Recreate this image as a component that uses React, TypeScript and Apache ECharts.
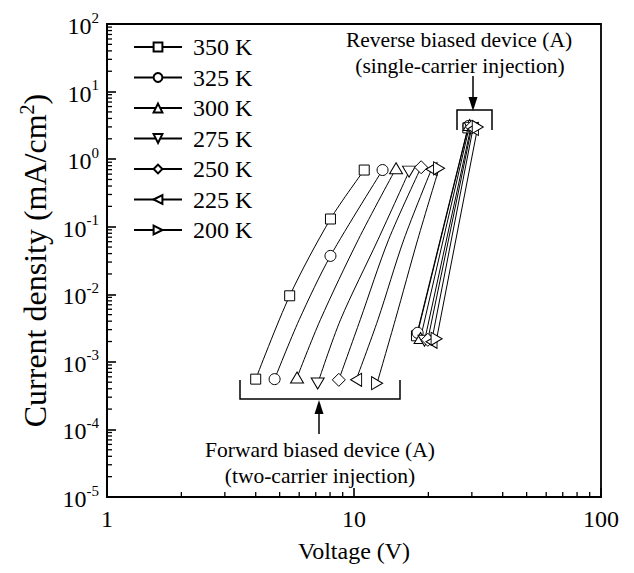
import React, { useEffect, useRef } from 'react';
import * as echarts from 'echarts';

// ---------- data ----------
const temperatures = ['350 K', '325 K', '300 K', '275 K', '250 K', '225 K', '200 K'];

// forward biased (two-carrier injection): voltage (V), current density (mA/cm2), marker shown?
const fwd350V = [4.0, 5.49, 8.03, 11.0];
const fwd350J = [5.55e-4, 9.5e-3, 0.13, 0.69];
const fwd350Mark = [true, true, true, true];

const fwd325V = [4.77, 6.0, 8.03, 13.05];
const fwd325J = [5.55e-4, 4.2e-3, 0.037, 0.69];
const fwd325Mark = [true, false, true, true];

const fwd300V = [5.88, 7.31, 10.4, 14.8];
const fwd300J = [5.86e-4, 4.2e-3, 0.064, 0.733];
const fwd300Mark = [true, false, false, true];

const fwd275V = [7.13, 8.82, 12.5, 16.7];
const fwd275J = [4.78e-4, 4.2e-3, 0.064, 0.653];
const fwd275Mark = [true, false, false, true];

const fwd250V = [8.68, 10.6, 13.8, 18.7];
const fwd250J = [5.42e-4, 4.2e-3, 0.064, 0.759];
const fwd250Mark = [true, false, false, true];

const fwd225V = [10.2, 12.5, 15.9, 20.6];
const fwd225J = [5.42e-4, 4.2e-3, 0.064, 0.71];
const fwd225Mark = [true, false, false, true];

const fwd200V = [12.4, 14.7, 18.1, 22.1];
const fwd200J = [4.84e-4, 4.2e-3, 0.064, 0.733];
const fwd200Mark = [true, false, false, true];

// reverse biased (single-carrier injection)
const rev350V = [17.9, 28.9];
const rev350J = [2.43e-3, 2.9];
const rev325V = [18.1, 29.1];
const rev325J = [2.69e-3, 3.1];
const rev300V = [18.6, 29.4];
const rev300J = [2.26e-3, 3.2];
const rev275V = [19.3, 29.7];
const rev275J = [2.05e-3, 2.9];
const rev250V = [19.9, 30.0];
const rev250J = [2.12e-3, 3.0];
const rev225V = [20.6, 30.3];
const rev225J = [1.98e-3, 2.8];
const rev200V = [21.6, 31.7];
const rev200J = [2.19e-3, 3.0];

// minor tick values (log axes)
const xMinorTicks = [2, 3, 4, 5, 6, 7, 8, 9, 20, 30, 40, 50, 60, 70, 80, 90];
const yDecades = [1e-5, 1e-4, 1e-3, 1e-2, 1e-1, 1, 10];
const yMinorMultipliers = [2, 3, 4, 5, 6, 7, 8, 9];

const fwdV = [fwd350V, fwd325V, fwd300V, fwd275V, fwd250V, fwd225V, fwd200V];
const fwdJ = [fwd350J, fwd325J, fwd300J, fwd275J, fwd250J, fwd225J, fwd200J];
const fwdMark = [fwd350Mark, fwd325Mark, fwd300Mark, fwd275Mark, fwd250Mark, fwd225Mark, fwd200Mark];
const revV = [rev350V, rev325V, rev300V, rev275V, rev250V, rev225V, rev200V];
const revJ = [rev350J, rev325J, rev300J, rev275J, rev250J, rev225J, rev200J];

// ---------- styles ----------
const FONT = 'Liberation Serif';
const symbolShapes = ['rect', 'circle', 'triangle', 'triangle', 'diamond', 'triangle', 'triangle'];
const symbolRotations = [0, 0, 0, 180, 0, 90, -90];
const symbolSizes: any[] = [10, 11, [13, 11], [13, 11], 13, [13, 11], [13, 11]];

const X_MIN = 1, X_MAX = 100, Y_MIN = 1e-5, Y_MAX = 100;

export default function App() {
  const ref = useRef<HTMLDivElement>(null);

  useEffect(() => {
    if (!ref.current) return;
    const chart = echarts.init(ref.current, null, { renderer: 'svg' });

    const common = (i: number) => ({
      type: 'line',
      name: temperatures[i],
      symbol: symbolShapes[i],
      symbolRotate: symbolRotations[i],
      symbolSize: symbolSizes[i],
      showAllSymbol: true,
      lineStyle: { color: '#000', width: 1 },
      itemStyle: { color: '#fff', borderColor: '#000', borderWidth: 1 },
      emphasis: { disabled: true },
      z: 3,
    });

    const series: any[] = [];
    temperatures.forEach((_, i) => {
      series.push({
        ...common(i),
        smooth: 0.3,
        data: fwdV[i].map((v, k) => (fwdMark[i][k] ? { value: [v, fwdJ[i][k]] } : { value: [v, fwdJ[i][k]], symbol: 'none' })),
      });
    });
    temperatures.forEach((_, i) => {
      series.push({
        ...common(i),
        data: revV[i].map((v, k) => [v, revJ[i][k]]),
      });
    });

    const yMinorTicks: number[] = [];
    yDecades.forEach((d) => yMinorMultipliers.forEach((m) => yMinorTicks.push(d * m)));

    series.push({
      type: 'custom',
      name: 'xminor',
      coordinateSystem: 'cartesian2d',
      silent: true,
      clip: false,
      z: 10,
      encode: { x: 0, y: 1 },
      data: xMinorTicks.map((v) => [v, Y_MIN]),
      renderItem: (params: any, api: any) => {
        const p = api.coord([api.value(0), api.value(1)]);
        return { type: 'line', shape: { x1: p[0], y1: p[1], x2: p[0], y2: p[1] - 5 }, style: { stroke: '#000', lineWidth: 1.3 } };
      },
    });
    series.push({
      type: 'custom',
      name: 'yminor',
      coordinateSystem: 'cartesian2d',
      silent: true,
      clip: false,
      z: 10,
      encode: { x: 0, y: 1 },
      data: yMinorTicks.map((v) => [X_MIN, v]),
      renderItem: (params: any, api: any) => {
        const p = api.coord([api.value(0), api.value(1)]);
        return { type: 'line', shape: { x1: p[0], y1: p[1], x2: p[0] + 5, y2: p[1] }, style: { stroke: '#000', lineWidth: 1.3 } };
      },
    });

    const textEl = (txt: string, x: number, y: number) => ({
      type: 'text',
      x,
      y,
      style: { text: txt, fontSize: 21.5, fontFamily: FONT, fill: '#000', align: 'center', verticalAlign: 'middle' },
    });

    chart.setOption({
      animation: false,
      backgroundColor: '#fff',
      textStyle: { fontFamily: FONT, color: '#000' },
      grid: { left: 107, right: 33, top: 24, bottom: 76, show: true, borderColor: '#000', borderWidth: 1.8, backgroundColor: 'transparent' },
      legend: {
        data: temperatures,
        orient: 'vertical',
        left: 128,
        top: 30,
        itemWidth: 48,
        itemHeight: 11,
        itemGap: 6.5,
        selectedMode: false,
        textStyle: { fontSize: 24, fontFamily: FONT, color: '#000', padding: [0, 0, 0, 6] },
      },
      xAxis: {
        type: 'log',
        logBase: 10,
        min: X_MIN,
        max: X_MAX,
        name: 'Voltage (V)',
        nameLocation: 'middle',
        nameGap: 42,
        nameTextStyle: { fontSize: 24, fontFamily: FONT, color: '#000' },
        axisLine: { show: true, lineStyle: { color: '#000', width: 2 } },
        axisTick: { show: true, inside: true, length: 9, lineStyle: { color: '#000', width: 1.6 } },
        axisLabel: { fontSize: 24, fontFamily: FONT, color: '#000', margin: 10, formatter: (v: number) => String(Math.round(v)) },
        splitLine: { show: false },
      },
      yAxis: {
        type: 'log',
        logBase: 10,
        min: Y_MIN,
        max: Y_MAX,
        splitNumber: 7,
        name: '{a|Current density (mA/cm}{s|2}{a|)}',
        nameLocation: 'middle',
        nameGap: 56,
        nameRotate: 90,
        nameTextStyle: {
          fontFamily: FONT,
          rich: {
            a: { fontSize: 32, fontFamily: FONT, color: '#000', verticalAlign: 'bottom', lineHeight: 34 },
            s: { fontSize: 20, fontFamily: FONT, color: '#000', verticalAlign: 'top', lineHeight: 18 },
          },
        },
        axisLine: { show: true, lineStyle: { color: '#000', width: 2 } },
        axisTick: { show: true, inside: true, length: 9, lineStyle: { color: '#000', width: 1.6 } },
        axisLabel: {
          margin: 8,
          fontFamily: FONT,
          formatter: (v: number) => `{b|10}{s|${Math.round(Math.log10(v))}}`,
          rich: {
            b: { fontSize: 24, fontFamily: FONT, color: '#000', verticalAlign: 'bottom', lineHeight: 28 },
            s: { fontSize: 15, fontFamily: FONT, color: '#000', verticalAlign: 'top', lineHeight: 14 },
          },
        },
        splitLine: { show: false },
      },
      series,
      graphic: [
        textEl('Reverse biased device (A)', 459, 40),
        textEl('(single-carrier injection)', 460, 66),
        { type: 'line', shape: { x1: 473, y1: 76, x2: 473, y2: 100 }, style: { stroke: '#000', lineWidth: 1.5 } },
        { type: 'polygon', shape: { points: [[473, 111], [468.5, 97], [477.5, 97]] }, style: { fill: '#000' } },
        { type: 'polyline', shape: { points: [[457, 130], [457, 110], [492, 110], [492, 130]] }, style: { stroke: '#000', lineWidth: 1.5, fill: 'none' } },
        textEl('Forward biased device (A)', 320, 450),
        textEl('(two-carrier injection)', 320, 476),
        { type: 'line', shape: { x1: 319, y1: 412, x2: 319, y2: 434 }, style: { stroke: '#000', lineWidth: 1.5 } },
        { type: 'polygon', shape: { points: [[319, 400], [314.5, 414], [323.5, 414]] }, style: { fill: '#000' } },
        { type: 'polyline', shape: { points: [[240, 380], [240, 399], [400, 399], [400, 380]] }, style: { stroke: '#000', lineWidth: 1.5, fill: 'none' } },
      ],
    });

    return () => chart.dispose();
  }, []);

  return <div ref={ref} style={{ position: 'fixed', left: 0, top: 0, width: 634, height: 573 }} />;
}
